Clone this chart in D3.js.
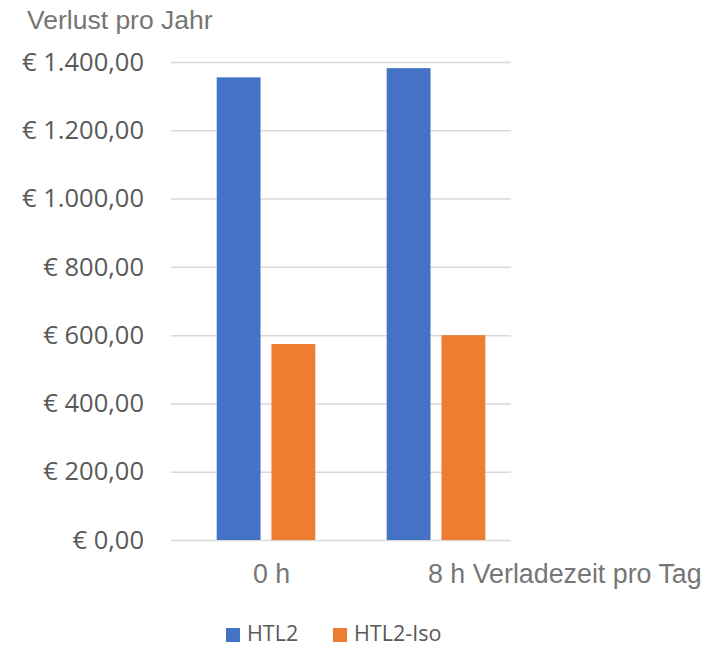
<!DOCTYPE html>
<html>
<head>
<meta charset="utf-8">
<script src="https://cdn.jsdelivr.net/npm/d3@7"></script>
<style>
  body { margin: 0; background: #fff; }
</style>
</head>
<body>
<script>
// data
var categories = ["0 h", "8 h Verladezeit pro Tag"];
var series = ["HTL2", "HTL2-Iso"];
var htl2 = [1355, 1382];
var htl2Iso = [574, 600];
var yTicks = [0, 200, 400, 600, 800, 1000, 1200, 1400];
var colors = ["#4472C4", "#ED7D31"];

var width = 707, height = 646;
var margin = {left: 171, right: 196, top: 62, bottom: 106};

var svg = d3.select("body").append("svg")
  .attr("width", width).attr("height", height);

// german currency format
var de = d3.formatLocale({decimal: ",", thousands: ".", grouping: [3], currency: ["€ ", ""]});
var fmt = de.format(",.2f");

var y = d3.scaleLinear()
  .domain([0, 1400])
  .range([height - margin.bottom, margin.top]);

// groups sit a bit right of the gridline area in the original
var x0 = d3.scaleBand()
  .domain(categories)
  .range([margin.left + 10, width - margin.right + 10])
  .paddingInner(0.42)
  .paddingOuter(0.21);

var x1 = d3.scaleBand()
  .domain(series)
  .range([0, x0.bandwidth()])
  .paddingInner(0.2);

// title
svg.append("text")
  .attr("x", 27).attr("y", 29)
  .attr("font-family", "Liberation Sans, Arial, sans-serif")
  .attr("font-size", "26.5px")
  .attr("fill", "#767676")
  .text("Verlust pro Jahr");

// y axis with gridlines
var yAxis = d3.axisLeft(y)
  .tickValues(yTicks)
  .tickSize(-(width - margin.left - margin.right))
  .tickPadding(27)
  .tickFormat(function(d){ return "€ " + fmt(d); });

var gy = svg.append("g")
  .attr("transform", "translate(" + margin.left + ",0)")
  .call(yAxis);
gy.select(".domain").remove();
gy.selectAll(".tick line").attr("stroke", "#d9d9d9").attr("stroke-width", 1.5);
gy.selectAll(".tick text")
  .attr("font-family", "Open Sans, sans-serif")
  .attr("font-size", "25.5px")
  .attr("fill", "#595959");

// bars
var rows = categories.map(function(c, i){
  return {cat: c, values: [htl2[i], htl2Iso[i]]};
});

var groups = svg.append("g").selectAll("g")
  .data(rows)
  .join("g")
  .attr("transform", function(d){ return "translate(" + x0(d.cat) + ",0)"; });

groups.selectAll("rect")
  .data(function(d){ return d.values.map(function(v, j){ return {s: series[j], v: v, c: colors[j]}; }); })
  .join("rect")
  .attr("x", function(d){ return x1(d.s); })
  .attr("width", x1.bandwidth())
  .attr("y", function(d){ return y(d.v); })
  .attr("height", function(d){ return y(0) - y(d.v); })
  .attr("fill", function(d){ return d.c; });

// x axis labels
var xAxis = d3.axisBottom(x0).tickSize(0).tickPadding(0);
var gx = svg.append("g")
  .attr("transform", "translate(0," + y(0) + ")")
  .call(xAxis);
gx.select(".domain").remove();
gx.selectAll(".tick text")
  .attr("text-anchor", "start")
  .attr("dy", null)
  .attr("y", 43)
  .attr("x", function(d, i){ return i === 0 ? -13 : -8; })
  .attr("font-family", "Liberation Sans, Arial, sans-serif")
  .attr("font-size", "26.8px")
  .attr("fill", "#767676");

// legend
var legendX = [226, 333];
var legend = svg.append("g").selectAll("g")
  .data(series)
  .join("g")
  .attr("transform", function(d, i){ return "translate(" + legendX[i] + ",628)"; });

legend.append("rect")
  .attr("width", 14).attr("height", 14)
  .attr("fill", function(d, i){ return colors[i]; });

legend.append("text")
  .attr("x", 21).attr("y", 13)
  .attr("font-family", "Open Sans, sans-serif")
  .attr("font-size", "21.5px")
  .attr("fill", "#595959")
  .text(function(d){ return d; });
</script>
</body>
</html>
